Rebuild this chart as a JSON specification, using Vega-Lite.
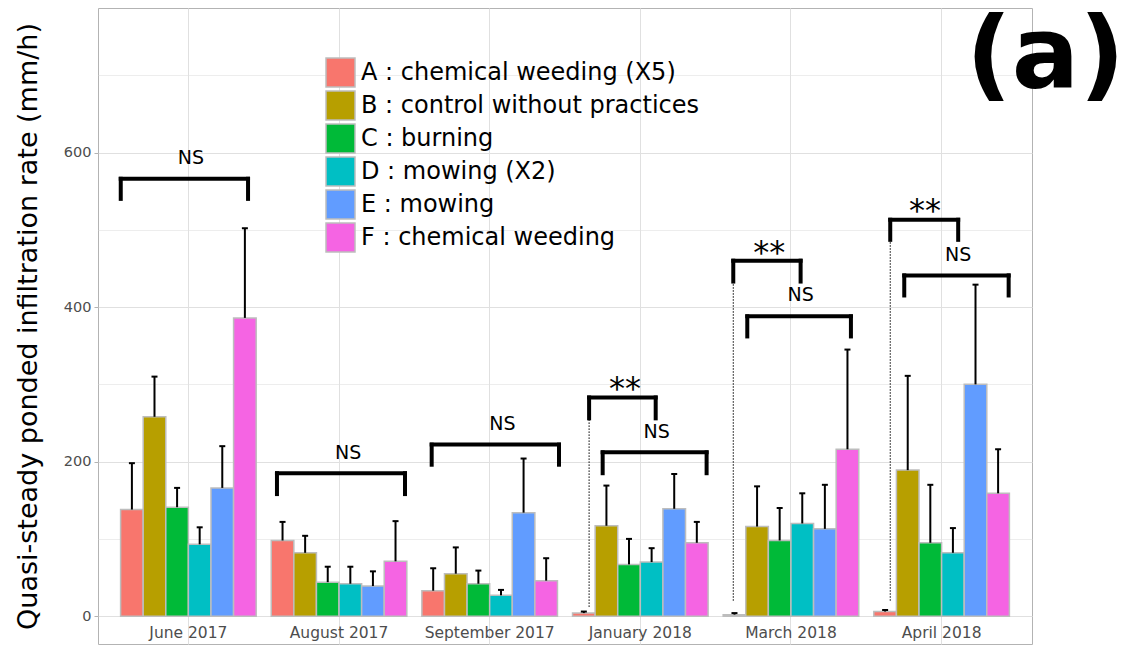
{
  "$schema": "https://vega.github.io/schema/vega-lite/v6.json",
  "autosize": "none",
  "width": 934,
  "height": 636,
  "padding": {"left": 98, "top": 8, "right": 96, "bottom": 2},
  "background": "white",
  "config": {
    "font": "DejaVu Sans",
    "view": {"stroke": "#B3B3B3", "strokeWidth": 1},
    "text": {"font": "DejaVu Sans"}
  },
  "datasets": {
    "bars": [
      {"group": "June 2017", "treatment": "A : chemical weeding (X5)", "value": 138, "upper": 198},
      {"group": "June 2017", "treatment": "B : control without practices", "value": 258, "upper": 310},
      {"group": "June 2017", "treatment": "C : burning", "value": 141, "upper": 166},
      {"group": "June 2017", "treatment": "D : mowing (X2)", "value": 93, "upper": 115},
      {"group": "June 2017", "treatment": "E : mowing", "value": 166, "upper": 220},
      {"group": "June 2017", "treatment": "F : chemical weeding", "value": 386, "upper": 502},
      {"group": "August 2017", "treatment": "A : chemical weeding (X5)", "value": 98, "upper": 122},
      {"group": "August 2017", "treatment": "B : control without practices", "value": 82, "upper": 104},
      {"group": "August 2017", "treatment": "C : burning", "value": 44, "upper": 64},
      {"group": "August 2017", "treatment": "D : mowing (X2)", "value": 42, "upper": 64},
      {"group": "August 2017", "treatment": "E : mowing", "value": 39, "upper": 58},
      {"group": "August 2017", "treatment": "F : chemical weeding", "value": 71, "upper": 123},
      {"group": "September 2017", "treatment": "A : chemical weeding (X5)", "value": 33, "upper": 62},
      {"group": "September 2017", "treatment": "B : control without practices", "value": 55, "upper": 89},
      {"group": "September 2017", "treatment": "C : burning", "value": 42, "upper": 59},
      {"group": "September 2017", "treatment": "D : mowing (X2)", "value": 27, "upper": 34},
      {"group": "September 2017", "treatment": "E : mowing", "value": 134, "upper": 204},
      {"group": "September 2017", "treatment": "F : chemical weeding", "value": 46, "upper": 75},
      {"group": "January 2018", "treatment": "A : chemical weeding (X5)", "value": 4, "upper": 6},
      {"group": "January 2018", "treatment": "B : control without practices", "value": 117, "upper": 169},
      {"group": "January 2018", "treatment": "C : burning", "value": 67, "upper": 100},
      {"group": "January 2018", "treatment": "D : mowing (X2)", "value": 70, "upper": 88},
      {"group": "January 2018", "treatment": "E : mowing", "value": 139, "upper": 184},
      {"group": "January 2018", "treatment": "F : chemical weeding", "value": 95, "upper": 122},
      {"group": "March 2018", "treatment": "A : chemical weeding (X5)", "value": 2, "upper": 4},
      {"group": "March 2018", "treatment": "B : control without practices", "value": 116, "upper": 168},
      {"group": "March 2018", "treatment": "C : burning", "value": 98, "upper": 140},
      {"group": "March 2018", "treatment": "D : mowing (X2)", "value": 120, "upper": 159},
      {"group": "March 2018", "treatment": "E : mowing", "value": 113, "upper": 170},
      {"group": "March 2018", "treatment": "F : chemical weeding", "value": 216, "upper": 345},
      {"group": "April 2018", "treatment": "A : chemical weeding (X5)", "value": 6, "upper": 8},
      {"group": "April 2018", "treatment": "B : control without practices", "value": 189, "upper": 311},
      {"group": "April 2018", "treatment": "C : burning", "value": 95, "upper": 170},
      {"group": "April 2018", "treatment": "D : mowing (X2)", "value": 82, "upper": 114},
      {"group": "April 2018", "treatment": "E : mowing", "value": 300, "upper": 429},
      {"group": "April 2018", "treatment": "F : chemical weeding", "value": 159, "upper": 216}
    ],
    "brackets": [
      {"xmin": 0.551, "xmax": 1.396, "ytop": 566, "ybot": 540},
      {"xmin": 1.588, "xmax": 2.438, "ytop": 185, "ybot": 158},
      {"xmin": 2.615, "xmax": 3.46, "ytop": 222, "ybot": 196},
      {"xmin": 3.66, "xmax": 4.102, "ytop": 283, "ybot": 256},
      {"xmin": 3.75, "xmax": 4.44, "ytop": 212, "ybot": 185},
      {"xmin": 4.617, "xmax": 5.064, "ytop": 460, "ybot": 433},
      {"xmin": 4.71, "xmax": 5.398, "ytop": 388, "ybot": 362},
      {"xmin": 5.659, "xmax": 6.11, "ytop": 513, "ybot": 487},
      {"xmin": 5.752, "xmax": 6.445, "ytop": 441, "ybot": 415}
    ],
    "dotted": [
      {"x": 3.66, "from": 12, "to": 256},
      {"x": 4.617, "from": 20, "to": 433},
      {"x": 5.659, "from": 20, "to": 487}
    ],
    "labels": [
      {"label": "NS", "x": 1.017, "y": 593},
      {"label": "NS", "x": 2.06, "y": 211},
      {"label": "NS", "x": 3.084, "y": 248.5},
      {"label": "NS", "x": 4.108, "y": 238.6},
      {"label": "NS", "x": 5.064, "y": 415.5},
      {"label": "NS", "x": 6.11, "y": 467.3},
      {"label": "**", "x": 3.898, "y": 281},
      {"label": "**", "x": 4.856, "y": 457},
      {"label": "**", "x": 5.89, "y": 512}
    ]
  },
  "resolve": {"scale": {"x": "independent"}},
  "layer": [
    {
      "data": {"name": "bars"},
      "mark": {"type": "bar", "stroke": "#BDBDBD", "strokeWidth": 1.5},
      "encoding": {
        "x": {
          "field": "group", "type": "nominal",
          "sort": ["June 2017", "August 2017", "September 2017", "January 2018", "March 2018", "April 2018"],
          "scale": {"paddingInner": 0.1, "paddingOuter": 0.15},
          "axis": {
            "orient": "bottom", "title": null, "domain": false, "ticks": false,
            "labelAngle": 0, "labelPadding": -12, "labelBaseline": "middle",
            "labelFontSize": 15.5, "labelColor": "#4D4D4D",
            "grid": true, "gridColor": "#E0E0E0", "gridWidth": 1, "bandPosition": 0.5
          }
        },
        "xOffset": {"field": "treatment", "type": "nominal", "scale": {"paddingInner": 0, "paddingOuter": 0}},
        "y": {
          "field": "value", "type": "quantitative", "stack": null,
          "scale": {"domain": [-36, 787], "nice": false, "zero": false},
          "axis": {
            "orient": "left",
            "values": [0, 100, 200, 300, 400, 500, 600, 700],
            "labelExpr": "datum.value % 200 == 0 ? datum.label : ''",
            "grid": true,
            "gridColor": "#E0E0E0",
            "gridWidth": {"condition": {"test": "datum.value % 200 == 0", "value": 1}, "value": 0.6},
            "tickColor": {"condition": {"test": "datum.value % 200 == 0", "value": "#B3B3B3"}, "value": "transparent"},
            "domain": false, "tickSize": 4, "tickWidth": 1,
            "labelFontSize": 14.5, "labelColor": "#4D4D4D", "labelPadding": 3,
            "title": "Quasi-steady ponded infiltration rate (mm/h)",
            "titleFontSize": 27, "titleFontWeight": "normal", "titleColor": "black",
            "titlePadding": 21
          }
        },
        "color": {
          "field": "treatment", "type": "nominal",
          "scale": {
            "domain": ["A : chemical weeding (X5)", "B : control without practices", "C : burning", "D : mowing (X2)", "E : mowing", "F : chemical weeding"],
            "range": ["#F8766D", "#B79F00", "#00BA38", "#00BFC4", "#619CFF", "#F564E3"]
          },
          "legend": {
            "orient": "none", "legendX": 227, "legendY": 49, "title": null,
            "symbolType": "square", "symbolSize": 841,
            "symbolStrokeColor": "#BDBDBD", "symbolStrokeWidth": 1.5, "symbolOpacity": 1,
            "labelFontSize": 24, "labelColor": "black", "labelLimit": 600,
            "rowPadding": -3.5, "labelOffset": 5, "padding": 0
          }
        }
      }
    },
    {
      "data": {"name": "bars"},
      "mark": {"type": "rule", "strokeWidth": 2, "color": "black"},
      "encoding": {
        "x": {"field": "group", "type": "nominal", "sort": ["June 2017", "August 2017", "September 2017", "January 2018", "March 2018", "April 2018"], "scale": {"paddingInner": 0.1, "paddingOuter": 0.15}, "axis": null},
        "xOffset": {"field": "treatment", "type": "nominal", "scale": {"paddingInner": 0, "paddingOuter": 0}},
        "y": {"field": "value", "type": "quantitative", "scale": {"domain": [-36, 787], "nice": false, "zero": false}},
        "y2": {"field": "upper"}
      }
    },
    {
      "data": {"name": "bars"},
      "mark": {"type": "tick", "orient": "horizontal", "size": 6, "thickness": 2, "color": "black", "opacity": 1},
      "encoding": {
        "x": {"field": "group", "type": "nominal", "sort": ["June 2017", "August 2017", "September 2017", "January 2018", "March 2018", "April 2018"], "scale": {"paddingInner": 0.1, "paddingOuter": 0.15}, "axis": null},
        "xOffset": {"field": "treatment", "type": "nominal", "scale": {"paddingInner": 0, "paddingOuter": 0}},
        "y": {"field": "upper", "type": "quantitative", "scale": {"domain": [-36, 787], "nice": false, "zero": false}}
      }
    },
    {
      "data": {"name": "brackets"},
      "mark": {"type": "rule", "strokeWidth": 4, "color": "black", "strokeCap": "square"},
      "encoding": {
        "x": {"field": "xmin", "type": "quantitative", "scale": {"domain": [0.4, 6.6], "nice": false, "zero": false}, "axis": null},
        "x2": {"field": "xmax"},
        "y": {"field": "ytop", "type": "quantitative", "scale": {"domain": [-36, 787], "nice": false, "zero": false}}
      }
    },
    {
      "data": {"name": "brackets"},
      "mark": {"type": "rule", "strokeWidth": 4, "color": "black", "strokeCap": "square"},
      "encoding": {
        "x": {"field": "xmin", "type": "quantitative", "scale": {"domain": [0.4, 6.6], "nice": false, "zero": false}, "axis": null},
        "y": {"field": "ybot", "type": "quantitative", "scale": {"domain": [-36, 787], "nice": false, "zero": false}},
        "y2": {"field": "ytop"}
      }
    },
    {
      "data": {"name": "brackets"},
      "mark": {"type": "rule", "strokeWidth": 4, "color": "black", "strokeCap": "square"},
      "encoding": {
        "x": {"field": "xmax", "type": "quantitative", "scale": {"domain": [0.4, 6.6], "nice": false, "zero": false}, "axis": null},
        "y": {"field": "ybot", "type": "quantitative", "scale": {"domain": [-36, 787], "nice": false, "zero": false}},
        "y2": {"field": "ytop"}
      }
    },
    {
      "data": {"name": "dotted"},
      "mark": {"type": "rule", "strokeWidth": 1, "color": "black", "strokeDash": [1.5, 1.5]},
      "encoding": {
        "x": {"field": "x", "type": "quantitative", "scale": {"domain": [0.4, 6.6], "nice": false, "zero": false}, "axis": null},
        "y": {"field": "from", "type": "quantitative", "scale": {"domain": [-36, 787], "nice": false, "zero": false}},
        "y2": {"field": "to"}
      }
    },
    {
      "data": {"name": "labels"},
      "transform": [{"filter": "datum.label == 'NS'"}],
      "mark": {"type": "text", "fontSize": 19, "align": "center", "baseline": "middle", "color": "black"},
      "encoding": {
        "x": {"field": "x", "type": "quantitative", "scale": {"domain": [0.4, 6.6], "nice": false, "zero": false}, "axis": null},
        "y": {"field": "y", "type": "quantitative", "scale": {"domain": [-36, 787], "nice": false, "zero": false}},
        "text": {"field": "label"}
      }
    },
    {
      "data": {"name": "labels"},
      "transform": [{"filter": "datum.label == '**'"}],
      "mark": {"type": "text", "fontSize": 32, "align": "center", "baseline": "alphabetic", "color": "black"},
      "encoding": {
        "x": {"field": "x", "type": "quantitative", "scale": {"domain": [0.4, 6.6], "nice": false, "zero": false}, "axis": null},
        "y": {"field": "y", "type": "quantitative", "scale": {"domain": [-36, 787], "nice": false, "zero": false}},
        "text": {"field": "label"}
      }
    },
    {
      "data": {"values": [{"tag": "(a)"}]},
      "mark": {"type": "text", "fontSize": 100, "fontWeight": "bold", "align": "center", "baseline": "alphabetic", "color": "black"},
      "encoding": {
        "x": {"datum": 6.69, "type": "quantitative", "scale": {"domain": [0.4, 6.6], "nice": false, "zero": false}, "axis": null},
        "y": {"datum": 683, "type": "quantitative", "scale": {"domain": [-36, 787], "nice": false, "zero": false}},
        "text": {"field": "tag"}
      }
    }
  ]
}
